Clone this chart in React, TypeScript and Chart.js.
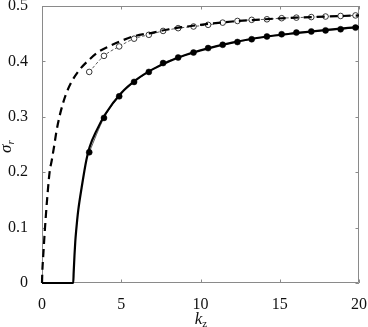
import React, { useEffect, useRef } from "react";
import { Chart, registerables } from "chart.js";

Chart.register(...registerables);

// ---- data ----
const xTicks = [0, 5, 10, 15, 20];
const yTicks = [0, 0.1, 0.2, 0.3, 0.4, 0.5];
const xTickLabels = ["0", "5", "10", "15", "20"];
const yTickLabels = ["0", "0.1", "0.2", "0.3", "0.4", "0.5"];

const kDashed = [0, 0.02, 0.08, 0.19, 0.32, 0.48, 0.62, 0.76, 0.92, 1.1, 1.3, 1.5, 1.9, 2.4, 2.9, 3.55, 4.3, 5.0, 5.75, 7, 8, 10, 12, 14, 16, 18, 20];
const sigmaDashed = [0, 0.02, 0.05, 0.1, 0.15, 0.2, 0.222, 0.246, 0.275, 0.3, 0.322, 0.34, 0.365, 0.386, 0.401, 0.417, 0.428, 0.437, 0.445, 0.452, 0.458, 0.466, 0.472, 0.476, 0.479, 0.481, 0.483];

const kSolid = [0, 1.97, 2.0, 2.05, 2.1, 2.16, 2.22, 2.29, 2.5, 2.8, 3.0, 3.44, 4, 5, 6, 7, 8, 9, 10, 12, 14, 16, 18, 20];
const sigmaSolid = [0, 0, 0.02, 0.05, 0.075, 0.096, 0.114, 0.132, 0.172, 0.222, 0.245, 0.275, 0.305, 0.343, 0.368, 0.386, 0.4, 0.411, 0.42, 0.434, 0.444, 0.451, 0.457, 0.462];

const kMarkers = [2.98, 3.91, 4.87, 5.81, 6.74, 7.64, 8.59, 9.56, 10.48, 11.4, 12.33, 13.23, 14.19, 15.12, 16.05, 16.99, 17.89, 18.84, 19.78];
const sigmaFilled = [0.236, 0.298, 0.337, 0.363, 0.381, 0.397, 0.407, 0.416, 0.424, 0.43, 0.435, 0.44, 0.445, 0.449, 0.452, 0.454, 0.456, 0.458, 0.461];
const sigmaOpen = [0.381, 0.41, 0.427, 0.441, 0.448, 0.455, 0.46, 0.463, 0.466, 0.47, 0.473, 0.475, 0.476, 0.478, 0.479, 0.48, 0.481, 0.482, 0.483];

const pts = (xs: number[], ys: number[]) => xs.map((x, i) => ({ x, y: ys[i] }));

const SERIF = '"Liberation Serif", "DejaVu Serif", serif';

const boxPlugin = {
  id: "boxTicks",
  beforeDatasetsDraw(chart: any) {
    const { ctx, chartArea: a, scales } = chart;
    const xs = scales.x, ys = scales.y;
    ctx.save();
    ctx.strokeStyle = "#8a8a8a";
    ctx.lineWidth = 1;
    ctx.beginPath();
    ctx.rect(a.left + 0.5, a.top + 0.5, a.right - a.left - 1, a.bottom - a.top - 1);
    const L = 3.5;
    xTicks.forEach((v) => {
      const px = Math.round(xs.getPixelForValue(v)) + 0.5;
      ctx.moveTo(px, a.bottom);
      ctx.lineTo(px, a.bottom - L);
      ctx.moveTo(px, a.top);
      ctx.lineTo(px, a.top + L);
    });
    yTicks.forEach((v) => {
      const py = Math.round(ys.getPixelForValue(v)) + 0.5;
      ctx.moveTo(a.left, py);
      ctx.lineTo(a.left + L, py);
      ctx.moveTo(a.right, py);
      ctx.lineTo(a.right - L, py);
    });
    ctx.stroke();
    ctx.restore();
  },
  afterDraw(chart: any) {
    const { ctx, chartArea: a } = chart;
    ctx.save();
    ctx.fillStyle = "#111";
    ctx.textBaseline = "alphabetic";
    // x title: k_z
    ctx.font = `italic 17px ${SERIF}`;
    const wk = ctx.measureText("k").width;
    ctx.font = `11px ${SERIF}`;
    const wz = ctx.measureText("z").width;
    const cx = (a.left + a.right) / 2 + 0.5;
    const sx = cx - (wk + wz) / 2;
    ctx.font = `italic 17px ${SERIF}`;
    ctx.fillText("k", sx, 324);
    ctx.font = `11px ${SERIF}`;
    ctx.fillText("z", sx + wk, 327);
    // y title: sigma_r
    ctx.translate(11, 153);
    ctx.rotate(-Math.PI / 2);
    ctx.font = `italic 17px ${SERIF}`;
    const ws = ctx.measureText("σ").width;
    ctx.fillText("σ", 0, 0);
    ctx.font = `italic 11px ${SERIF}`;
    ctx.fillText("r", ws, 3);
    ctx.restore();
  },
};

export default function App() {
  const ref = useRef<HTMLCanvasElement | null>(null);
  useEffect(() => {
    if (!ref.current) return;
    const chart = new Chart(ref.current, {
      type: "line",
      data: {
        datasets: [
          {
            data: pts(kDashed, sigmaDashed),
            borderColor: "#000",
            borderWidth: 2.2,
            borderDash: [8, 5],
            pointRadius: 0,
            cubicInterpolationMode: "monotone",
            clip: false as any,
          },
          {
            data: pts(kSolid, sigmaSolid),
            borderColor: "#000",
            borderWidth: 2.2,
            pointRadius: 0,
            cubicInterpolationMode: "monotone",
            clip: false as any,
          },
          {
            data: pts(kMarkers, sigmaOpen),
            borderColor: "#333",
            borderWidth: 0.8,
            borderDash: [3, 2],
            pointRadius: 2.8,
            pointBorderWidth: 0.9,
            pointBackgroundColor: "#fff",
            pointBorderColor: "#222",
            cubicInterpolationMode: "monotone",
          },
          {
            data: pts(kMarkers, sigmaFilled),
            borderColor: "#333",
            borderWidth: 0.8,
            pointRadius: 3,
            pointBorderWidth: 0.5,
            pointBackgroundColor: "#000",
            pointBorderColor: "#000",
            cubicInterpolationMode: "monotone",
          },
        ],
      },
      options: {
        animation: false,
        responsive: false,
        devicePixelRatio: 1,
        layout: { padding: { top: 6, right: 9, left: 0, bottom: 0 } },
        plugins: { legend: { display: false }, tooltip: { enabled: false } },
        scales: {
          x: {
            type: "linear",
            min: 0,
            max: 20,
            grid: { display: false },
            border: { display: false },
            afterBuildTicks: (s: any) => {
              s.ticks = xTicks.map((v) => ({ value: v }));
            },
            afterFit: (s: any) => {
              s.height = 44;
              s.paddingLeft = 0;
              s.paddingRight = 0;
            },
            ticks: {
              padding: 4,
              color: "#111",
              font: { family: SERIF, size: 16 },
              callback: (v: any) => xTickLabels[xTicks.indexOf(Number(v))] ?? "",
              maxRotation: 0,
            },
          },
          y: {
            type: "linear",
            min: 0,
            max: 0.5,
            grid: { display: false },
            border: { display: false },
            afterBuildTicks: (s: any) => {
              s.ticks = yTicks.map((v) => ({ value: v }));
            },
            afterFit: (s: any) => {
              s.width = 42;
              s.paddingTop = 0;
              s.paddingBottom = 0;
            },
            ticks: {
              padding: 6,
              color: "#111",
              font: { family: SERIF, size: 16 },
              callback: (v: any) => {
                const i = yTicks.findIndex((t) => Math.abs(t - Number(v)) < 1e-9);
                return i >= 0 ? yTickLabels[i] : "";
              },
            },
          },
        },
      },
      plugins: [boxPlugin],
    });
    return () => chart.destroy();
  }, []);
  return (
    <div style={{ position: "absolute", left: 0, top: 0, width: 368, height: 327, background: "#fff" }}>
      <canvas ref={ref} width={368} height={327} style={{ display: "block", width: 368, height: 327 }} />
    </div>
  );
}
